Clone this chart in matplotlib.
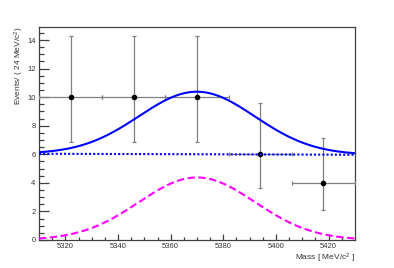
import numpy as np
import matplotlib
matplotlib.use("Agg")
import matplotlib.pyplot as plt
from matplotlib.ticker import MultipleLocator

plt.rcParams['font.family'] = ['Liberation Sans', 'DejaVu Sans']
plt.rcParams['mathtext.fontset'] = 'custom'
plt.rcParams['mathtext.rm'] = 'Liberation Sans'
plt.rcParams['mathtext.it'] = 'Liberation Sans:italic'

# binned data (bin width 24 MeV)
mass_centers = [5322, 5346, 5370, 5394, 5418]
counts = [10, 10, 10, 6, 4]
err_low = [3.11, 3.11, 3.11, 2.38, 1.91]
err_high = [4.27, 4.27, 4.27, 3.58, 3.16]
bin_half = 12

# fit parameters
sig_mean = 5370.0
sig_sigma = 22.0
sig_amp = 4.38
bkg_left = 6.04   # at 5310
bkg_right = 5.97  # at 5430

x_lo, x_hi = 5310, 5430
y_hi = 14.93

x = np.linspace(x_lo, x_hi, 400)
sig = sig_amp * np.exp(-0.5 * ((x - sig_mean) / sig_sigma) ** 2)
bkg = bkg_left + (bkg_right - bkg_left) * (x - x_lo) / (x_hi - x_lo)

fig = plt.figure(figsize=(3.94, 2.68), dpi=100)
ax = fig.add_axes([0.099, 0.1045, 0.802, 0.7955])

ax.errorbar(mass_centers, counts, xerr=bin_half, yerr=[err_low, err_high],
            fmt='o', color='black', ms=3.0, ecolor='0.5', elinewidth=0.9,
            capsize=1.2, capthick=0.9, zorder=3)
ax.plot(x, sig + bkg, color='#0000ff', lw=1.5, zorder=4)
ax.plot(x, bkg, color='#0000ff', lw=1.5, linestyle=(0, (1, 1)), zorder=4)
ax.plot(x, sig, color='#ff00ff', lw=1.5, linestyle=(0, (3.5, 1.7)), zorder=4)

ax.set_xlim(x_lo, x_hi)
ax.set_ylim(0, y_hi)
ax.xaxis.set_major_locator(MultipleLocator(20))
ax.xaxis.set_minor_locator(MultipleLocator(5))
ax.yaxis.set_major_locator(MultipleLocator(2))
ax.yaxis.set_minor_locator(MultipleLocator(0.5))
ax.tick_params(which='both', direction='in', top=False, right=False,
               color='0.25', width=0.9, labelsize=5.5, labelcolor='0.2')
ax.tick_params(axis='x', which='major', length=4.3, pad=2.5)
ax.tick_params(axis='x', which='minor', length=2.2)
ax.tick_params(axis='y', which='major', length=7.2, pad=2.5)
ax.tick_params(axis='y', which='minor', length=3.6)
for s in ax.spines.values():
    s.set_color('0.25')
    s.set_linewidth(0.9)

ax.set_xlabel(r'Mass [ MeV/c$^{2}$ ]', loc='right', fontsize=6.0, color='0.2')
ax.set_ylabel(r'Events/ ( 24 MeV/c$^{2}$)', loc='top', fontsize=6.0, color='0.2')
ax.xaxis.set_label_coords(1.0, -0.055)
ax.yaxis.set_label_coords(-0.04, 1.0)

fig.savefig('out.png', dpi=100)
